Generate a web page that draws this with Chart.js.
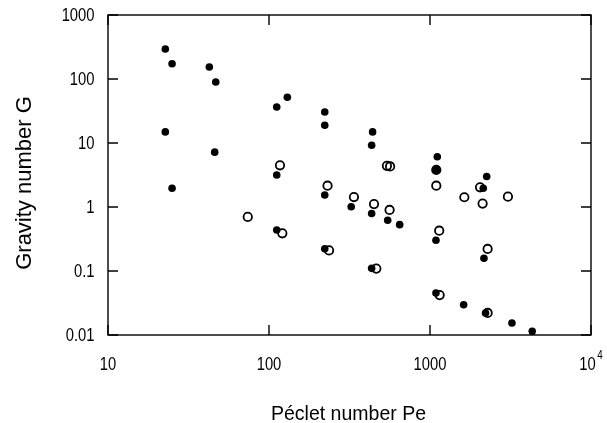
<!DOCTYPE html>
<html>
<head>
<meta charset="utf-8">
<script src="https://cdn.jsdelivr.net/npm/chart.js@4"></script>
<style>
  html, body { margin: 0; padding: 0; background: #fff; }
  #wrap { width: 607px; height: 423px; }
</style>
</head>
<body>
<div id="wrap"><canvas id="chart"></canvas></div>
<script>
// filled circles
const peFilled = [22.7, 25, 42.6, 46.7, 22.7, 46, 25, 111.7, 130, 222, 222, 111.7, 222, 324, 111.7, 222,
    440, 434, 434, 546, 648, 434, 1110, 1094, 1089, 1089, 2250, 2142, 2163, 1618, 2213, 3228, 4315];
const gFilled = [294, 173, 154, 90, 14.9, 7.2, 1.96, 36.5, 52, 30.5, 18.9, 3.16, 1.54, 1.01, 0.437, 0.223,
    14.9, 9.2, 0.79, 0.62, 0.53, 0.110, 6.1, 3.79, 0.302, 0.0453, 3.0, 1.96, 0.158, 0.0297, 0.0221, 0.0154, 0.0114];

// open circles
const peOpen = [117, 231, 337, 73.8, 121, 236, 540, 565, 1094, 449, 561, 1094, 1634, 2046, 2122, 3048,
    1141, 2280, 464, 1148, 2280];
const gOpen = [4.48, 2.15, 1.43, 0.70, 0.388, 0.21, 4.4, 4.3, 3.79, 1.11, 0.90, 2.15, 1.42, 2.03, 1.13, 1.45,
    0.426, 0.221, 0.109, 0.042, 0.0221];

const xTicks = [10, 100, 1000, 10000];
const xTickLabels = ["10", "100", "1000", "10"]; // last one gets a superscript 4
const yTicks = [0.01, 0.1, 1, 10, 100, 1000];
const yTickLabels = ["0.01", "0.1", "1", "10", "100", "1000"];
const xTitle = "Péclet number Pe";
const yTitle = "Gravity number G";

const tickFont = "18px 'Liberation Sans', Arial, sans-serif";
const supFont = "12px 'Liberation Sans', Arial, sans-serif";
const titleFont = "19.5px 'Liberation Sans', Arial, sans-serif";
const yTitleFont = "22px 'Liberation Sans', Arial, sans-serif";
const narrow = 0.82; // tick labels are a condensed face

function toPoints(xs, ys) {
    return xs.map((x, i) => ({ x: x, y: ys[i] }));
}

// condensed text: squeeze horizontally around the anchor
function narrowText(ctx, text, x, y, align) {
    ctx.save();
    ctx.translate(x, y);
    ctx.scale(narrow, 1);
    ctx.textAlign = align;
    ctx.fillText(text, 0, 0);
    ctx.restore();
}

// frame, inward ticks, tick labels and axis titles
const framePlugin = {
    id: "frame",
    afterDatasetsDraw(chart) {
        const ctx = chart.ctx;
        const a = chart.chartArea;
        const xs = chart.scales.x;
        const ys = chart.scales.y;
        const len = 10;
        ctx.save();
        ctx.strokeStyle = "#000";
        ctx.lineWidth = 1.4;
        ctx.strokeRect(a.left, a.top, a.right - a.left, a.bottom - a.top);
        ctx.beginPath();
        xTicks.forEach(v => {
            const px = xs.getPixelForValue(v);
            ctx.moveTo(px, a.bottom);
            ctx.lineTo(px, a.bottom - len);
            ctx.moveTo(px, a.top);
            ctx.lineTo(px, a.top + len);
        });
        yTicks.forEach(v => {
            const py = ys.getPixelForValue(v);
            ctx.moveTo(a.left, py);
            ctx.lineTo(a.left + len, py);
            ctx.moveTo(a.right, py);
            ctx.lineTo(a.right - len, py);
        });
        ctx.stroke();

        ctx.fillStyle = "#000";
        ctx.font = tickFont;
        // y tick labels
        ctx.textBaseline = "middle";
        yTicks.forEach((v, i) => {
            narrowText(ctx, yTickLabels[i], a.left - 13.5, ys.getPixelForValue(v) + 1, "right");
        });
        // x tick labels
        ctx.textBaseline = "alphabetic";
        xTicks.forEach((v, i) => {
            const px = xs.getPixelForValue(v);
            ctx.font = tickFont;
            if (i === xTicks.length - 1) {
                const w = ctx.measureText(xTickLabels[i]).width * narrow;
                ctx.font = supFont;
                const w4 = ctx.measureText("4").width * narrow;
                const start = px - (w + 1.5 + w4) / 2;
                ctx.font = tickFont;
                narrowText(ctx, xTickLabels[i], start, a.bottom + 34.5, "left");
                ctx.font = supFont;
                narrowText(ctx, "4", start + w + 1.5, a.bottom + 24, "left");
            } else {
                narrowText(ctx, xTickLabels[i], px, a.bottom + 34.5, "center");
            }
        });
        // axis titles
        ctx.font = titleFont;
        ctx.textAlign = "center";
        ctx.fillText(xTitle, (a.left + a.right) / 2 - 1, 420);
        ctx.save();
        ctx.font = yTitleFont;
        ctx.translate(31, 183);
        ctx.rotate(-Math.PI / 2);
        ctx.fillText(yTitle, 0, 0);
        ctx.restore();
        ctx.restore();
    }
};

new Chart(document.getElementById("chart"), {
    type: "scatter",
    data: {
        datasets: [
            {
                label: "filled",
                data: toPoints(peFilled, gFilled),
                pointStyle: "circle",
                pointRadius: 3.8,
                backgroundColor: "#000",
                borderColor: "#000",
                borderWidth: 0
            },
            {
                label: "open",
                data: toPoints(peOpen, gOpen),
                pointStyle: "circle",
                pointRadius: 4.2,
                backgroundColor: "rgba(0,0,0,0)",
                borderColor: "#000",
                borderWidth: 1.8
            }
        ]
    },
    options: {
        responsive: true,
        maintainAspectRatio: false,
        animation: false,
        layout: { padding: { top: 15, right: 16, left: 0, bottom: 0 } },
        plugins: {
            legend: { display: false },
            tooltip: { enabled: false }
        },
        scales: {
            x: {
                type: "logarithmic",
                min: 10,
                max: 10000,
                afterBuildTicks: (scale) => { scale.ticks = xTicks.map(v => ({ value: v })); },
                afterFit: (scale) => {
                    scale.height = 88;
                    scale.paddingLeft = 0;
                    scale.paddingRight = 0;
                },
                grid: { display: false, drawTicks: false },
                border: { display: false },
                ticks: { display: false }
            },
            y: {
                type: "logarithmic",
                min: 0.01,
                max: 1000,
                afterBuildTicks: (scale) => { scale.ticks = yTicks.map(v => ({ value: v })); },
                afterFit: (scale) => {
                    scale.width = 108;
                    scale.paddingTop = 0;
                    scale.paddingBottom = 0;
                },
                grid: { display: false, drawTicks: false },
                border: { display: false },
                ticks: { display: false }
            }
        }
    },
    plugins: [framePlugin]
});
</script>
</body>
</html>
